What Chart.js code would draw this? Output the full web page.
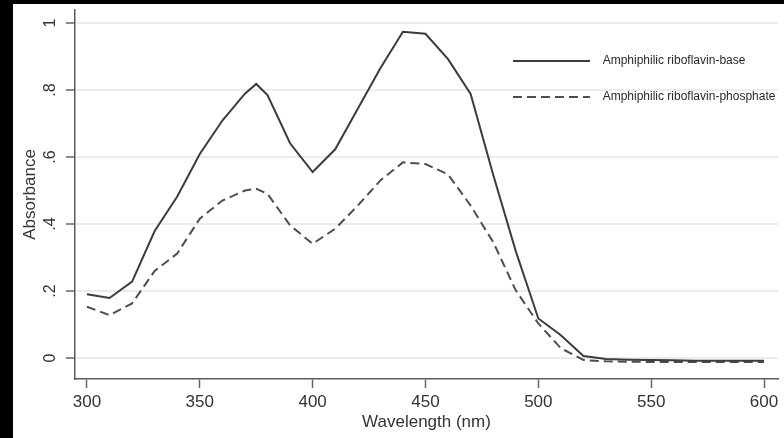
<!DOCTYPE html>
<html>
<head>
<meta charset="utf-8">
<script src="https://cdn.jsdelivr.net/npm/chart.js@4"></script>
<style>
  html, body { margin: 0; padding: 0; background: #000; width: 784px; height: 438px; overflow: hidden; }
  #wrap { position: absolute; left: 13px; top: 4px; width: 771px; height: 434px; background: #fff; }
  canvas { display: block; }
</style>
</head>
<body>
<div id="wrap"><canvas id="c" width="771" height="434"></canvas></div>
<script>
// Data
const wavelengths = [300,310,320,330,340,350,360,370,375,380,390,400,410,420,430,440,450,460,470,480,490,500,510,520,530,540,550,560,570,580,590,600];
const baseAbs = [0.190,0.179,0.228,0.379,0.482,0.609,0.709,0.789,0.818,0.785,0.641,0.555,0.623,0.744,0.865,0.974,0.968,0.892,0.788,0.547,0.319,0.118,0.068,0.006,-0.003,-0.005,-0.006,-0.007,-0.008,-0.008,-0.008,-0.008];
const phosphateAbs = [0.153,0.128,0.163,0.260,0.312,0.416,0.470,0.500,0.505,0.490,0.396,0.341,0.386,0.455,0.530,0.584,0.579,0.548,0.455,0.346,0.202,0.103,0.029,-0.006,-0.010,-0.011,-0.012,-0.012,-0.012,-0.012,-0.012,-0.012];
const seriesNames = ['Amphiphilic riboflavin-base', 'Amphiphilic riboflavin-phosphate'];
const xTicks = [300,350,400,450,500,550,600];
const yTicks = [0,0.2,0.4,0.6,0.8,1];
const xTitle = 'Wavelength (nm)';
const yTitle = 'Absorbance';

const FONT = '"Liberation Sans", Arial, sans-serif';
const toPts = (xs, ys) => xs.map((x, i) => ({x: x, y: ys[i]}));
const fmtY = v => {
  if (Math.abs(v) < 1e-9) return '0';
  if (Math.abs(v - 1) < 1e-9) return '1';
  return v.toFixed(1).replace(/^0/, '');
};

const legendPlace = {
  id: 'legendPlace',
  afterLayout(chart) {
    const lg = chart.legend;
    if (!lg) return;
    lg.left = 476; lg.top = 27;
    lg.right = lg.left + lg.width;
    lg.bottom = 400;
  }
};

new Chart(document.getElementById('c'), {
  type: 'line',
  data: {
    datasets: [
      { label: seriesNames[0], data: toPts(wavelengths, baseAbs), borderColor: '#3c3c3c', backgroundColor: '#3c3c3c', borderWidth: 2, pointRadius: 0, tension: 0, fill: false },
      { label: seriesNames[1], data: toPts(wavelengths, phosphateAbs), borderColor: '#4e4e4e', backgroundColor: '#4e4e4e', borderWidth: 2, borderDash: [9,5], pointRadius: 0, tension: 0, fill: false }
    ]
  },
  options: {
    responsive: false,
    animation: false,
    devicePixelRatio: 1,
    layout: { padding: { left: 0, top: 6, right: 6, bottom: 0 } },
    plugins: {
      tooltip: { enabled: false },
      legend: {
        display: true,
        position: 'chartArea',
        align: 'start',
        labels: {
          usePointStyle: true,
          pointStyle: 'line',
          pointStyleWidth: 77,
          padding: 24,
          color: '#2a2a2a',
          font: { family: FONT, size: 12 },
          generateLabels(chart) {
            const items = Chart.defaults.plugins.legend.labels.generateLabels(chart);
            items.forEach(it => {
              const ds = chart.data.datasets[it.datasetIndex];
              it.text = '  ' + it.text;
              it.pointStyle = 'line';
              it.lineDash = ds.borderDash || [];
              it.lineWidth = ds.borderWidth;
              it.strokeStyle = ds.borderColor;
            });
            return items;
          }
        }
      }
    },
    scales: {
      x: {
        type: 'linear',
        min: 294.7,
        max: 606.2,
        afterBuildTicks(scale) { scale.ticks = xTicks.map(v => ({value: v})); },
        afterFit(scale) { scale.height = 59; scale.paddingLeft = 0; scale.paddingRight = 0; },
        grid: { display: true, drawOnChartArea: false, drawTicks: true, tickLength: 9, tickColor: '#666', tickWidth: 1.5 },
        border: { display: true, color: '#5a5a5a', width: 1.5 },
        ticks: { color: '#333', font: { family: FONT, size: 17 }, padding: 4, maxRotation: 0, minRotation: 0 },
        title: { display: true, text: xTitle, color: '#333', font: { family: FONT, size: 17 }, padding: { top: 0, bottom: 5 } }
      },
      y: {
        type: 'linear',
        min: -0.0627,
        max: 1.0388,
        afterBuildTicks(scale) { scale.ticks = yTicks.map(v => ({value: v})); },
        afterFit(scale) { scale.width = 62; scale.paddingTop = 0; scale.paddingBottom = 0; },
        grid: { display: true, drawOnChartArea: true, color: '#ececec', lineWidth: 2, drawTicks: true, tickLength: 9, tickColor: '#666', tickWidth: 1.5 },
        border: { display: true, color: '#5a5a5a', width: 1.5 },
        ticks: { color: '#333', font: { family: FONT, size: 16 }, minRotation: 90, maxRotation: 90, crossAlign: 'center', padding: 9, callback: v => fmtY(v) },
        title: { display: true, text: yTitle, color: '#333', font: { family: FONT, size: 17 }, padding: { top: 7, bottom: 0 } }
      }
    }
  },
  plugins: [legendPlace]
});
</script>
</body>
</html>
